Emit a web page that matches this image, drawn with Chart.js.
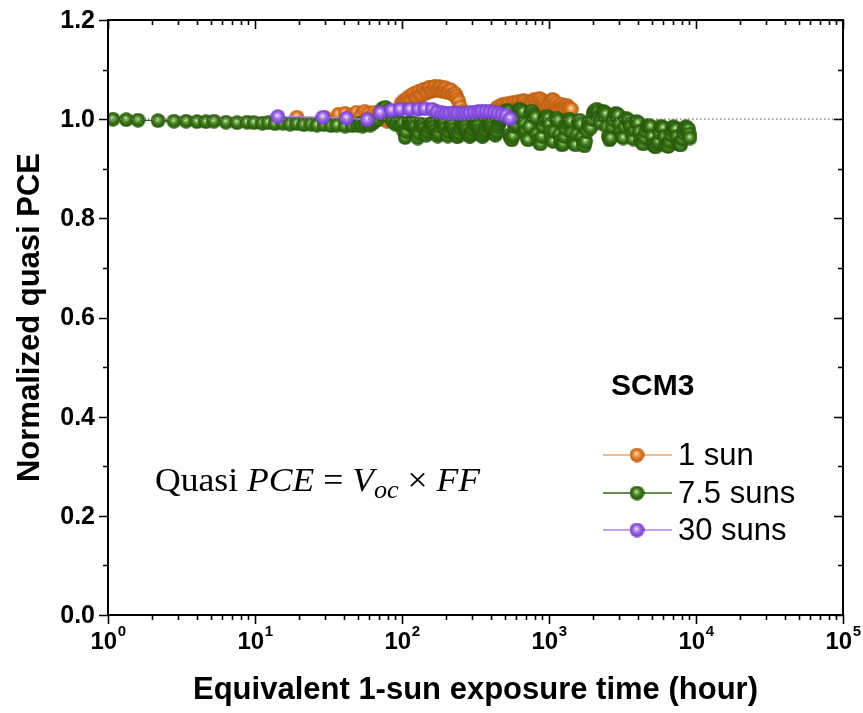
<!DOCTYPE html>
<html>
<head>
<meta charset="utf-8">
<script src="https://cdn.jsdelivr.net/npm/chart.js@4.4.1/dist/chart.umd.min.js"></script>
<style>
  html, body { margin: 0; padding: 0; background: #fff; }
  #wrap { width: 863px; height: 713px; }
</style>
</head>
<body>
<div id="wrap"><canvas id="pceChart" width="863" height="713"></canvas></div>
<script>
// --- data: [equivalent 1-sun hours, normalized quasi PCE] ---
const oneSun = [
  [19.3, 1.004], [30, 1.003], [37, 1.010], [41, 1.012], [45, 1.008], [49, 1.014], [53, 1.010], [56, 1.016], [59, 1.012], [62, 1.006],
  [65, 1.014], [68, 1.010], [71, 1.004], [75, 1.000], [79, 0.996], [83, 1.002], [87, 1.008], [91, 1.004], [95, 1.018],
  [99, 1.032], [101, 1.026], [103, 1.038], [105, 1.034], [107, 1.030], [109, 1.042], [111, 1.045], [113.5, 1.036], [116, 1.040], [118.5, 1.050],
  [121, 1.052], [123.5, 1.042], [126, 1.046], [128.5, 1.055], [131, 1.056], [134, 1.048], [137, 1.050], [140, 1.060], [143, 1.060], [146, 1.052],
  [149, 1.055], [152, 1.064], [155, 1.064], [158.5, 1.056], [162, 1.058], [165.5, 1.066], [169, 1.066], [172.5, 1.058], [176, 1.060], [179.5, 1.066],
  [183, 1.064], [187, 1.056], [191, 1.058], [195, 1.064], [199, 1.062], [203, 1.054], [207, 1.055], [211.5, 1.060], [216, 1.058], [220.5, 1.050],
  [225, 1.050], [229.5, 1.052], [234, 1.046], [239, 1.040], [244, 1.035], [249, 1.025], [254, 1.015],
  [265, 0.998], [276, 0.990], [288, 0.986], [300, 0.990], [313, 0.985], [326, 0.992], [340, 0.988], [354, 0.984], [369, 0.990], [385, 0.986],
  [401, 0.992], [418, 1.004],
  [436, 1.018], [445, 1.024], [454, 1.025], [463, 1.020], [473, 1.022], [483, 1.030], [493, 1.028], [503, 1.020], [514, 1.024], [525, 1.032],
  [536, 1.030], [547, 1.022], [558, 1.026], [570, 1.034], [582, 1.032], [594, 1.024], [606, 1.028], [619, 1.036], [632, 1.034], [645, 1.026],
  [658, 1.030], [672, 1.038], [686, 1.036], [700, 1.028], [715, 1.032], [730, 1.024], [745, 1.028], [760, 1.036], [776, 1.034], [792, 1.040],
  [809, 1.038], [826, 1.030], [843, 1.035], [860, 1.042], [878, 1.040], [896, 1.032], [915, 1.036], [934, 1.028], [953, 1.032], [973, 1.024],
  [993, 1.028], [1014, 1.034], [1035, 1.034], [1056, 1.040], [1078, 1.038], [1100, 1.030], [1123, 1.033], [1146, 1.024], [1170, 1.028], [1194, 1.020],
  [1219, 1.030], [1244, 1.024], [1270, 1.025], [1296, 1.018], [1323, 1.028], [1350, 1.024], [1378, 1.022], [1420, 1.020]
];

const sevenHalfSuns = [
  [1.08, 1.000], [1.33, 0.999], [1.60, 0.998], [2.19, 0.997], [2.81, 0.996], [3.40, 0.996], [4.03, 0.995], [4.64, 0.995], [5.26, 0.996], [6.35, 0.994],
  [7.55, 0.993], [8.83, 0.994], [9.85, 0.993], [11.2, 0.992], [12.3, 0.993], [13.7, 0.991], [15.5, 0.992], [17.3, 0.990], [19.3, 0.991], [21.5, 0.989],
  [24.0, 0.990], [26.4, 0.988], [29.5, 0.989], [32.9, 0.987], [36.1, 0.988], [41.0, 0.986], [45.7, 0.987],
  [50, 0.988], [52, 0.992], [54, 0.986], [56.2, 0.990], [58.5, 0.994], [60.8, 0.988], [63.3, 0.992], [65.8, 0.996], [68.4, 1.000], [71.2, 1.010],
  [74, 1.022], [77, 1.024], [80, 1.018], [83.3, 1.004], [86.6, 0.995], [90, 0.990], [93.7, 0.994], [97.4, 0.988],
  [101, 0.992], [103, 0.975], [105, 0.963], [107, 0.975], [110, 0.990], [112, 0.994], [114, 0.992], [116, 0.988], [118, 0.990], [120.5, 0.992],
  [123, 0.985], [125.5, 0.972], [128, 0.962], [130.5, 0.972], [133, 0.986], [136, 0.990], [139, 0.988], [141.5, 0.982], [144, 0.972], [147, 0.968],
  [150, 0.975], [153, 0.984], [156, 0.990], [159, 0.992], [162, 0.990], [165.5, 0.985], [169, 0.978], [172, 0.970], [175, 0.966], [178.5, 0.972],
  [182, 0.985], [186, 0.992], [190, 0.994], [193.5, 0.990], [197, 0.982], [201, 0.972], [205, 0.966], [209, 0.975], [213, 0.985], [217.5, 0.990],
  [222, 0.988], [226.5, 0.980], [231, 0.972], [235.5, 0.966], [240, 0.965], [245, 0.972], [250, 0.982], [255, 0.990], [260, 0.992], [265, 0.988],
  [270, 0.985], [275.5, 0.978], [281, 0.970], [286.5, 0.966], [292, 0.966], [298, 0.972], [304, 0.980], [310, 0.988], [316, 0.990], [322.5, 0.988],
  [329, 0.986], [335.5, 0.978], [342, 0.972], [349, 0.966], [356, 0.966], [363, 0.972], [370, 0.978], [377.5, 0.986], [385, 0.992], [392.5, 0.990],
  [400, 0.988], [408, 0.982], [416, 0.975], [424.5, 0.970], [433, 0.968], [441.5, 0.975], [450, 0.985], [459, 0.992], [468, 0.998], [477.5, 1.002],
  [487, 1.004], [496.5, 1.008],
  [506, 1.010], [516, 1.018], [527, 1.016], [537, 0.968], [548, 0.962], [559, 0.958], [570, 0.966], [581, 0.985], [592, 0.990], [604, 1.004],
  [616, 1.012], [628, 1.020], [641, 1.018], [653, 1.010], [666, 1.015], [680, 0.990], [693, 0.975], [707, 0.962], [721, 0.958], [735, 0.985],
  [750, 1.012], [765, 1.016], [780, 1.010], [795, 1.006], [811, 1.004], [827, 0.970], [843, 0.958], [860, 0.952], [877, 0.950], [894, 0.965],
  [912, 0.985], [930, 0.998], [949, 1.004], [968, 1.006], [987, 1.002], [1006, 0.990], [1026, 0.975], [1046, 0.962], [1067, 0.955], [1088, 0.975],
  [1110, 1.000], [1132, 1.002], [1154, 0.998], [1177, 0.970], [1200, 0.955], [1224, 0.948], [1248, 0.950], [1273, 0.965], [1298, 0.980], [1324, 0.992],
  [1350, 0.998], [1377, 1.000], [1404, 0.996], [1432, 0.972], [1460, 0.954], [1489, 0.950], [1519, 0.948], [1549, 0.970], [1580, 0.994], [1611, 0.998],
  [1643, 0.990], [1676, 0.965], [1709, 0.950], [1743, 0.946], [1777, 0.955], [1812, 0.975], [1848, 0.990], [1885, 0.985], [1922, 0.982], [1960, 1.000],
  [1999, 1.012], [2039, 1.016], [2079, 1.018], [2120, 1.020], [2162, 1.015], [2205, 1.005], [2249, 0.992], [2294, 1.008], [2339, 1.016], [2385, 1.014],
  [2432, 1.010], [2480, 0.985], [2530, 0.965], [2580, 0.958], [2631, 0.962], [2683, 0.985], [2736, 0.998], [2790, 1.008], [2846, 1.012], [2902, 1.010],
  [2959, 1.008], [3018, 0.990], [3078, 0.975], [3139, 0.965], [3201, 0.962], [3265, 0.985], [3329, 1.002], [3395, 1.000], [3462, 0.998], [3531, 0.990],
  [3600, 0.985], [3671, 0.970], [3744, 0.960], [3818, 0.978], [3894, 0.994], [3971, 0.995], [4050, 0.992], [4130, 0.975], [4212, 0.958], [4295, 0.952],
  [4380, 0.950], [4467, 0.962], [4556, 0.975], [4646, 0.985], [4738, 0.988], [4832, 0.986], [4927, 0.985], [5025, 0.965], [5124, 0.948], [5226, 0.945],
  [5329, 0.944], [5435, 0.950], [5543, 0.955], [5653, 0.972], [5764, 0.986], [5878, 0.984], [5995, 0.982], [6114, 0.965], [6235, 0.948], [6358, 0.946],
  [6484, 0.945], [6613, 0.955], [6744, 0.968], [6877, 0.978], [7013, 0.985], [7152, 0.982], [7294, 0.980], [7439, 0.965], [7586, 0.950], [7736, 0.949],
  [7889, 0.948], [8045, 0.960], [8205, 0.972], [8368, 0.980], [8533, 0.985], [8702, 0.982], [8874, 0.980], [9000, 0.970], [9100, 0.962]
];

const thirtySuns = [
  [14.3, 1.005], [29, 1.004], [42, 1.002], [58, 0.999], [71, 1.013], [85, 1.018], [97, 1.020], [113, 1.020], [129, 1.020], [143, 1.021],
  [160, 1.020], [173, 1.015], [187, 1.013], [199, 1.012], [212, 1.012], [226, 1.013], [240, 1.012], [256, 1.012], [272, 1.012], [290, 1.013],
  [309, 1.014], [329, 1.015], [350, 1.016], [373, 1.016], [397, 1.015], [423, 1.014], [450, 1.012], [479, 1.010], [510, 1.008], [543, 1.001]
];

const seriesNames = ['1 sun', '7.5 suns', '30 suns'];
const yTickValues = [0, 0.2, 0.4, 0.6, 0.8, 1.0, 1.2];
const yMinorValues = [0.1, 0.3, 0.5, 0.7, 0.9, 1.1];
const xDecades = [0, 1, 2, 3, 4, 5];
const refLevel = 1.0;

const FONT = "'Liberation Sans', Arial, sans-serif";
const SERIF = "'Liberation Serif', 'Times New Roman', serif";

// shaded ball used as the point marker
function makeBall(light, base, dark, size) {
    const c = document.createElement('canvas');
    c.width = size; c.height = size;
    const g = c.getContext('2d');
    const r = size / 2;
    const grad = g.createRadialGradient(r * 0.9, r * 0.8, 0, r, r, r);
    grad.addColorStop(0, '#ffffff');
    grad.addColorStop(0.18, light);
    grad.addColorStop(0.5, base);
    grad.addColorStop(1, dark);
    g.fillStyle = grad;
    g.beginPath();
    g.arc(r, r, r - 0.2, 0, Math.PI * 2);
    g.fill();
    return c;
}

const balls = [
    makeBall('#f6c08a', '#e8812a', '#b55a0f', 15),
    makeBall('#8cbf6a', '#3f7f18', '#22500a', 15),
    makeBall('#d2b6fb', '#9e64f2', '#6b36c4', 15)
];
const lineColors = ['#f2a25c', '#2d6910', '#ad82f6'];

function toPoints(pairs) {
    return pairs.map(p => ({ x: p[0], y: p[1] }));
}

const datasets = [
    {   // dotted reference line at 1.0
        label: 'ref',
        data: [{ x: 1, y: refLevel }, { x: 1e5, y: refLevel }],
        borderColor: '#7a7a7a', borderWidth: 1.2, borderDash: [1.5, 2.5],
        pointRadius: 0, order: 0
    },
    {
        label: seriesNames[2], data: toPoints(thirtySuns),
        borderColor: lineColors[2], borderWidth: 1.2, pointStyle: balls[2], pointRadius: 7, order: 1
    },
    {
        label: seriesNames[1], data: toPoints(sevenHalfSuns),
        borderColor: lineColors[1], borderWidth: 1.2, pointStyle: balls[1], pointRadius: 7, order: 2
    },
    {
        label: seriesNames[0], data: toPoints(oneSun),
        borderColor: lineColors[0], borderWidth: 1.2, pointStyle: balls[0], pointRadius: 7, order: 3
    }
];

// frame, ticks, labels, legend and the formula are drawn by hand
const decorPlugin = {
    id: 'decor',
    afterDraw(chart) {
        const ctx = chart.ctx;
        const xs = chart.scales.x, ys = chart.scales.y;
        const a = chart.chartArea;
        const MAJ = 9, MIN = 5;
        ctx.save();
        ctx.strokeStyle = '#000';
        ctx.lineWidth = 2;
        ctx.strokeRect(a.left, a.top, a.right - a.left, a.bottom - a.top);

        ctx.lineWidth = 1.6;
        ctx.beginPath();
        // y ticks: outward on the left, inward on the right
        yTickValues.forEach(v => {
            const py = Math.round(ys.getPixelForValue(v)) + 0.5;
            ctx.moveTo(a.left - MAJ, py); ctx.lineTo(a.left, py);
            ctx.moveTo(a.right - MAJ, py); ctx.lineTo(a.right, py);
        });
        yMinorValues.forEach(v => {
            const py = Math.round(ys.getPixelForValue(v)) + 0.5;
            ctx.moveTo(a.left - MIN, py); ctx.lineTo(a.left, py);
            ctx.moveTo(a.right - MIN, py); ctx.lineTo(a.right, py);
        });
        // x ticks: outward at the bottom, inward at the top
        xDecades.forEach(d => {
            for (let m = 1; m <= 9; m++) {
                if (d === 5 && m > 1) break;
                const px = Math.round(xs.getPixelForValue(m * Math.pow(10, d))) + 0.5;
                const len = m === 1 ? MAJ : MIN;
                ctx.moveTo(px, a.bottom); ctx.lineTo(px, a.bottom + len);
                ctx.moveTo(px, a.top); ctx.lineTo(px, a.top + len);
            }
        });
        ctx.stroke();

        // y tick labels
        ctx.fillStyle = '#000';
        ctx.font = 'bold 25px ' + FONT;
        ctx.textAlign = 'right';
        ctx.textBaseline = 'middle';
        yTickValues.forEach(v => {
            ctx.fillText(v.toFixed(1), a.left - 13, ys.getPixelForValue(v) + 1);
        });

        // x tick labels as 10 with a raised exponent
        ctx.textAlign = 'left';
        ctx.textBaseline = 'alphabetic';
        xDecades.forEach(d => {
            const px = xs.getPixelForValue(Math.pow(10, d));
            ctx.font = 'bold 24px ' + FONT;
            const w1 = ctx.measureText('10').width;
            ctx.font = 'bold 15px ' + FONT;
            const w2 = ctx.measureText(String(d)).width;
            const x0 = px - (w1 + w2) / 2;
            ctx.font = 'bold 24px ' + FONT;
            ctx.fillText('10', x0, 649);
            ctx.font = 'bold 15px ' + FONT;
            ctx.fillText(String(d), x0 + w1 + 0.5, 636);
        });

        // axis titles
        ctx.font = 'bold 31px ' + FONT;
        ctx.textAlign = 'center';
        ctx.textBaseline = 'middle';
        ctx.fillText('Equivalent 1-sun exposure time (hour)', (a.left + a.right) / 2, 690);
        ctx.save();
        ctx.translate(30, (a.top + a.bottom) / 2);
        ctx.rotate(-Math.PI / 2);
        ctx.fillText('Normalized quasi PCE', 0, 0);
        ctx.restore();

        // legend block
        ctx.textAlign = 'left';
        ctx.font = 'bold 30px ' + FONT;
        ctx.fillText('SCM3', 611, 387);
        const rowsY = [455, 493, 530];
        ctx.font = '31px ' + FONT;
        rowsY.forEach((ry, i) => {
            ctx.strokeStyle = lineColors[i];
            ctx.lineWidth = 1.3;
            ctx.beginPath();
            ctx.moveTo(603, ry); ctx.lineTo(672, ry);
            ctx.stroke();
            ctx.drawImage(balls[i], 637 - 7.5, ry - 7.5);
            ctx.fillStyle = '#000';
            ctx.fillText(seriesNames[i], 678, ry + 1);
        });

        // Quasi PCE = Voc x FF
        const parts = [
            { t: 'Quasi ', f: '34px ' + SERIF, dy: 0 },
            { t: 'PCE', f: 'italic 34px ' + SERIF, dy: 0 },
            { t: ' = ', f: '34px ' + SERIF, dy: 0 },
            { t: 'V', f: 'italic 34px ' + SERIF, dy: 0 },
            { t: 'oc', f: 'italic 25px ' + SERIF, dy: 7 },
            { t: ' \u00d7 ', f: '34px ' + SERIF, dy: 0 },
            { t: 'FF', f: 'italic 34px ' + SERIF, dy: 0 }
        ];
        let total = 0;
        parts.forEach(p => { ctx.font = p.f; p.w = ctx.measureText(p.t).width; total += p.w; });
        const fx0 = 155, fx1 = 480, base = 491;
        ctx.save();
        ctx.translate(fx0, base);
        ctx.scale((fx1 - fx0) / total, 1);
        ctx.textBaseline = 'alphabetic';
        let cx = 0;
        parts.forEach(p => {
            ctx.font = p.f;
            ctx.fillText(p.t, cx, p.dy);
            cx += p.w;
        });
        ctx.restore();
        ctx.restore();
    }
};

new Chart(document.getElementById('pceChart'), {
    type: 'line',
    data: { datasets: datasets },
    options: {
        responsive: false,
        animation: false,
        devicePixelRatio: 1,
        layout: { padding: { left: 0, right: 20, top: 20, bottom: 0 } },
        plugins: { legend: { display: false }, tooltip: { enabled: false } },
        elements: { line: { tension: 0 } },
        scales: {
            x: {
                type: 'logarithmic', min: 1, max: 1e5,
                ticks: { display: false }, grid: { display: false }, border: { display: false },
                afterFit: s => { s.height = 98; }
            },
            y: {
                min: 0, max: 1.2,
                ticks: { display: false }, grid: { display: false }, border: { display: false },
                afterFit: s => { s.width = 108; }
            }
        }
    },
    plugins: [decorPlugin]
});
</script>
</body>
</html>
